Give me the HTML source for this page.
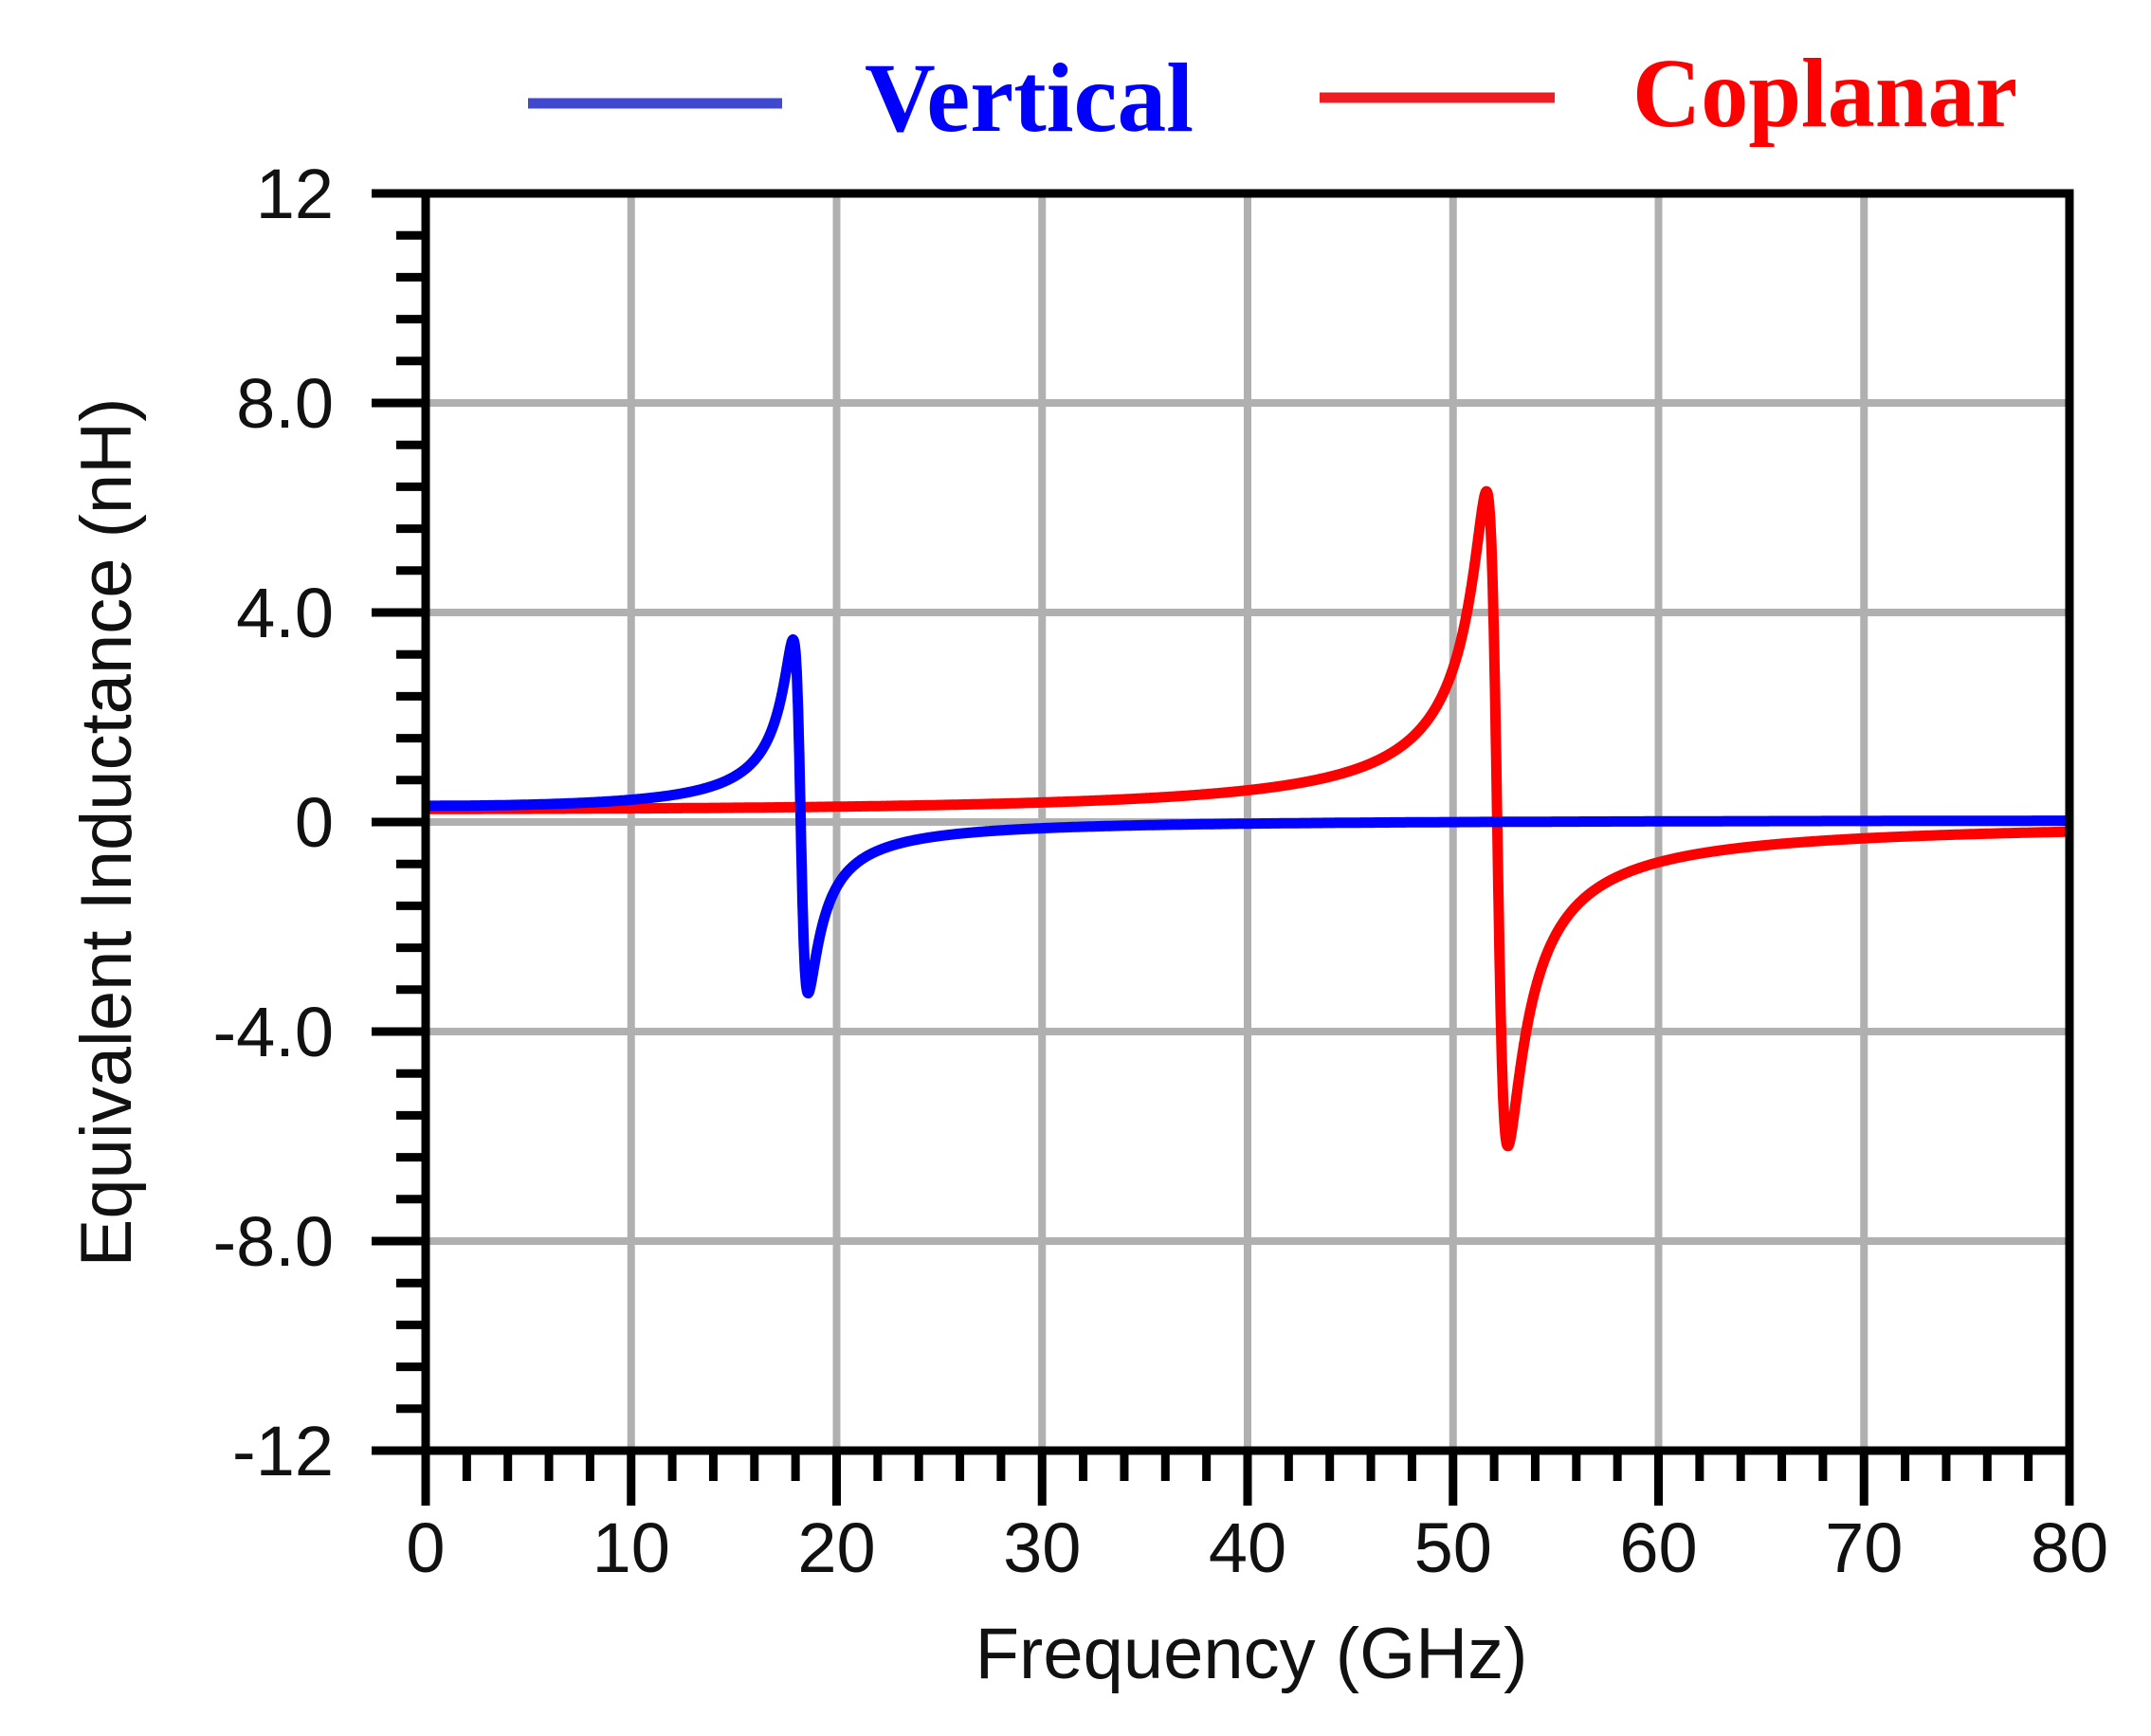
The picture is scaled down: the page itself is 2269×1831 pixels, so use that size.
<!DOCTYPE html>
<html><head><meta charset="utf-8"><style>
html,body{margin:0;padding:0;background:#fff;}
svg{display:block;}
</style></head><body>
<svg id="s" width="2269" height="1831" viewBox="0 0 2269 1831" xmlns="http://www.w3.org/2000/svg" font-family="Liberation Sans, sans-serif">
<rect width="2269" height="1831" fill="#fff"/>
<g id="grid" stroke="#b0b0b0" stroke-width="8"></g>
<g id="curves" fill="none" stroke-width="11" stroke-linejoin="round"></g>
<g id="axes" stroke="#000" stroke-width="9"></g>
<g id="labels" font-size="74" fill="#111"></g>
<text x="1320" y="1770" font-size="76" text-anchor="middle" fill="#111">Frequency (GHz)</text>
<text transform="translate(138,878) rotate(-90)" font-size="76" text-anchor="middle" fill="#111">Equivalent Inductance (nH)</text>
<line x1="557" y1="109" x2="825" y2="109" stroke="#4048d0" stroke-width="11"/>
<text x="912" y="138" style="font-family:'Liberation Serif',serif;font-weight:bold" font-size="104" fill="#0000ff" textLength="347" lengthAdjust="spacingAndGlyphs">Vertical</text>
<line x1="1392" y1="103" x2="1640" y2="103" stroke="#ee1c24" stroke-width="11"/>
<text x="1722" y="133" style="font-family:'Liberation Serif',serif;font-weight:bold" font-size="104" fill="#ff0000" textLength="406" lengthAdjust="spacingAndGlyphs">Coplanar</text>
</svg>
<script>
var NS="http://www.w3.org/2000/svg";
function X(f){return 449+f*21.675;}
function Y(v){return 204+(12-v)*55.25;}
function el(p,t,a){var e=document.createElementNS(NS,t);for(var k in a){if(k!=='txt')e.setAttribute(k,a[k]);}if(a.txt!==undefined)e.textContent=a.txt;p.appendChild(e);return e;}
var g=document.getElementById('grid'),ax=document.getElementById('axes'),lb=document.getElementById('labels'),cv=document.getElementById('curves');
for(var q=10;q<80;q+=10)el(g,'line',{x1:X(q),y1:Y(12),x2:X(q),y2:Y(-12)});
[8,4,0,-4,-8].forEach(function(v){el(g,'line',{x1:X(0),y1:Y(v),x2:X(80),y2:Y(v)});});
el(ax,'rect',{x:X(0),y:Y(12),width:X(80)-X(0),height:Y(-12)-Y(12),fill:'none'});
for(var i=0;i<=30;i++){var v=-12+i*0.8;var maj=(i%5==0);el(ax,'line',{x1:maj?392:418,y1:Y(v),x2:X(0),y2:Y(v)});}
for(var i=0;i<=40;i++){var q=i*2;var maj=(i%5==0);el(ax,'line',{x1:X(q),y1:Y(-12),x2:X(q),y2:maj?1588:1562});}
var yl=[[12,"12"],[8,"8.0"],[4,"4.0"],[0,"0"],[-4,"-4.0"],[-8,"-8.0"],[-12,"-12"]];
yl.forEach(function(p){el(lb,'text',{x:352,y:Y(p[0])+26,'text-anchor':'end',txt:p[1]});});
for(var q=0;q<=80;q+=10)el(lb,'text',{x:X(q),y:1658,'text-anchor':'middle',txt:String(q)});
function curve(L0,f0,Q,col,off){var d="";for(var i=0;i<=4000;i++){var f=i*0.02;var r=f/f0;var a=1-r*r,b=r/Q;var v=L0*a/(a*a+b*b)+off;d+=(i?"L":"M")+X(f).toFixed(1)+" "+Y(v).toFixed(1);}el(cv,'path',{d:d,stroke:col});}
curve(0.25,52.15,50,"#ff0000",0);
curve(0.27,18.25,25,"#0000ff",0.04);
</script>
</body></html>
